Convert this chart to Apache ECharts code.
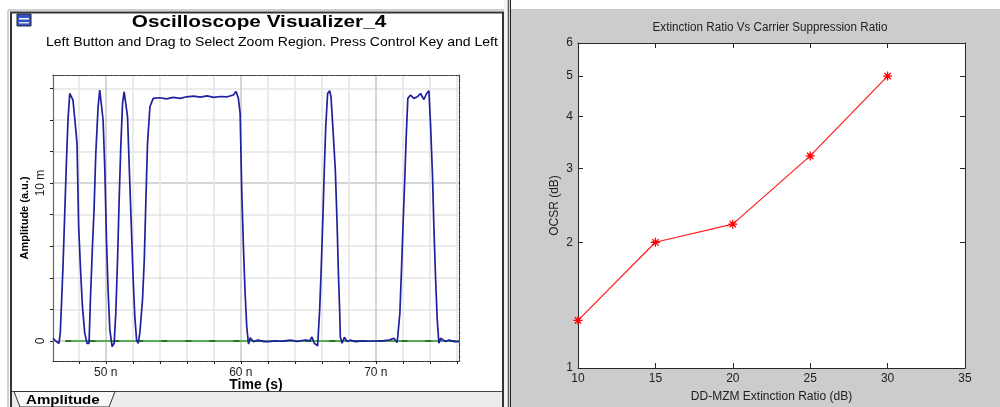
<!DOCTYPE html>
<html>
<head>
<meta charset="utf-8">
<title>Oscilloscope Visualizer / OCSR</title>
<script src="https://cdn.jsdelivr.net/npm/echarts@6/dist/echarts.min.js"></script>
<style>
html, body { margin: 0; padding: 0; background: #fff; }
#chart { width: 1000px; height: 407px; }
</style>
</head>
<body>
<div id="chart"></div>
<script>
// oscilloscope trace: [time (ns), amplitude (m a.u.)]
const trace = [
  [46.09, 0.17], [46.20, 0.10], [46.34, -0.04], [46.53, -0.15], [46.63, 0.51],
  [46.71, 2.17], [46.83, 4.70], [46.96, 8.08], [47.08, 11.24], [47.20, 13.99],
  [47.33, 15.67], [47.45, 15.72], [47.57, 15.25], [47.70, 14.09], [47.87, 12.51],
  [47.99, 7.23], [48.12, 4.70], [48.27, 2.17], [48.44, 0.51], [48.61, -0.15],
  [48.76, -0.15], [48.86, 2.59], [49.01, 5.97], [49.13, 8.29], [49.26, 11.88],
  [49.43, 14.83], [49.55, 15.89], [49.68, 15.78], [49.80, 13.99], [49.93, 10.82],
  [50.05, 6.39], [50.17, 3.23], [50.30, 0.70], [50.47, -0.36], [50.62, -0.15],
  [50.74, 1.74], [50.87, 5.12], [50.99, 8.92], [51.11, 12.30], [51.24, 15.04],
  [51.36, 15.78], [51.48, 15.67], [51.61, 14.20], [51.78, 9.98], [51.91, 6.81],
  [52.03, 3.86], [52.15, 1.54], [52.28, 0.06], [52.40, -0.15], [52.52, 0.51],
  [52.72, 2.59], [52.85, 5.12], [52.97, 8.92], [53.09, 12.51], [53.27, 14.83],
  [53.51, 15.36], [54.0, 15.40], [54.5, 15.33], [55.0, 15.42], [55.5, 15.36],
  [56.0, 15.46], [56.5, 15.50], [57.0, 15.44], [57.5, 15.52], [58.0, 15.42],
  [58.5, 15.48], [59.0, 15.46], [59.45, 15.57], [59.65, 15.80], [59.82, 15.36],
  [59.95, 14.41], [60.07, 9.50], [60.20, 5.80], [60.32, 3.00], [60.44, 0.90],
  [60.57, -0.20], [60.70, 0.20], [60.82, 0.17], [60.94, -0.05], [61.06, -0.10],
  [61.25, 0.05], [61.43, 0.02], [61.70, -0.04], [62.05, -0.04], [62.50, 0.00],
  [63.00, -0.02], [63.66, 0.05], [64.20, -0.03], [64.78, 0.06], [65.10, 0.00],
  [65.27, 0.25], [65.44, -0.15], [65.69, -0.30], [65.84, 1.96], [65.96, 4.70],
  [66.09, 8.08], [66.19, 11.03], [66.29, 13.56], [66.43, 15.67], [66.58, 15.84],
  [66.68, 15.46], [66.83, 13.35], [67.00, 10.82], [67.13, 7.44], [67.23, 4.28],
  [67.32, 1.96], [67.37, 0.27], [67.50, -0.15], [67.67, 0.23], [67.87, -0.04],
  [68.10, 0.05], [68.49, -0.04], [69.00, 0.00], [69.60, -0.02], [70.20, 0.00],
  [70.59, 0.02], [71.00, 0.05], [71.33, 0.17], [71.58, -0.10], [71.78, 1.74],
  [71.90, 4.49], [72.03, 7.66], [72.15, 10.40], [72.25, 12.93], [72.37, 15.36],
  [72.57, 15.57], [72.82, 15.36], [73.07, 15.46], [73.31, 15.67], [73.56, 15.29],
  [73.76, 15.67], [73.93, 15.84], [74.06, 13.56], [74.20, 10.40], [74.30, 7.23],
  [74.43, 3.86], [74.55, 1.32], [74.67, -0.15], [74.80, 0.17], [74.99, 0.06],
  [75.17, -0.04], [75.42, 0.06], [75.79, -0.04], [76.16, -0.04]
];
// green reference line at zero
const zeroLine = [[47.0, 0], [76.16, 0]];

const timeTicks = [48, 50, 52, 54, 56, 58, 60, 62, 64, 66, 68, 70, 72, 74, 76];
const timeLabels = [50, 60, 70];
const ampTicks = [0, 2, 4, 6, 8, 10, 12, 14, 16];
const ampLabels = [0, 10];

// extinction ratio vs OCSR
const extinctionRatio = [10, 15, 20, 25, 30];
const ocsr = [1.30, 2.0, 2.21, 3.22, 5.0];
const ocsrTicks = [1, 2, 3, 4, 5, 6];

const FONT = 'Liberation Sans, Arial, sans-serif';
const chart = echarts.init(document.getElementById('chart'));

const asterisk = 'path://M5 0L5 10M0 5L10 5M1.5 1.5L8.5 8.5M1.5 8.5L8.5 1.5';
const ocsrPoints = extinctionRatio.map((x, i) => [x, ocsr[i]]);

// text placed at (x, y), optionally stretched horizontally like the original ClearType text
function txt(text, x, y, font, align, fill, sx) {
  return {
    type: 'text', z: 10, x: x, y: y, scaleX: sx || 1,
    style: { text: text, x: 0, y: 0, font: font, fill: fill || '#000',
      align: align, textAlign: align, verticalAlign: 'middle', textVerticalAlign: 'middle' }
  };
}

let option = {
  backgroundColor: '#fff',
  animation: false,
  textStyle: { fontFamily: FONT },
  graphic: [
    // left window
    { type: 'rect', z: -10, shape: { x: 8, y: 10, width: 497, height: 400 },
      style: { fill: '#fff', stroke: '#a0a0a0', lineWidth: 1 } },
    { type: 'rect', z: -9, shape: { x: 11, y: 12.5, width: 492, height: 400 },
      style: { fill: 'none', stroke: '#333', lineWidth: 2 } },
    { type: 'rect', z: -9, shape: { x: 12, y: 391, width: 490, height: 16 },
      style: { fill: '#ececec' } },
    { type: 'line', z: 9, shape: { x1: 12, y1: 391.5, x2: 502, y2: 391.5 },
      style: { stroke: '#444', lineWidth: 1 } },
    { type: 'polygon', z: 10, shape: { points: [[14, 391.5], [20, 407], [109, 407], [115, 391.5]] },
      style: { fill: '#f8f8f8', stroke: '#333', lineWidth: 1 } },
    txt('Amplitude', 26, 400, 'bold 13px ' + FONT, 'left', '#000', 1.16),
    // icon
    { type: 'rect', z: 10, shape: { x: 17, y: 14, width: 14, height: 12 },
      style: { fill: '#2f55c8', stroke: '#223', lineWidth: 1 } },
    { type: 'rect', z: 11, shape: { x: 19, y: 18, width: 10, height: 1.5 }, style: { fill: '#fff' } },
    { type: 'rect', z: 11, shape: { x: 19, y: 22, width: 10, height: 1.5 }, style: { fill: '#ddd' } },
    txt('Oscilloscope Visualizer_4', 259, 22, 'bold 17px ' + FONT, 'center', '#000', 1.22),
    txt('Left Button and Drag to Select Zoom Region. Press Control Key and Left', 46, 42, '13px ' + FONT, 'left', '#000', 1.08),
    // separator
    { type: 'rect', z: -10, shape: { x: 504, y: 0, width: 4, height: 407 }, style: { fill: '#f2f2f2' } },
    { type: 'line', z: 9, shape: { x1: 508.5, y1: 0, x2: 508.5, y2: 407 }, style: { stroke: '#555', lineWidth: 1.5 } },
    { type: 'line', z: 9, shape: { x1: 510.5, y1: 0, x2: 510.5, y2: 407 }, style: { stroke: '#222', lineWidth: 1 } },
    // right figure
    { type: 'rect', z: -10, shape: { x: 511, y: 9, width: 489, height: 398 }, style: { fill: '#cccccc' } },
    { type: 'rect', z: -9, shape: { x: 578, y: 43, width: 387, height: 325 }, style: { fill: '#fff' } },
    txt('Extinction Ratio Vs Carrier Suppression Ratio', 770, 28, '12px ' + FONT, 'center', '#222', 0.97)
  ],
  grid: [
    { left: 53, top: 75, width: 406, height: 286, outerBoundsMode: 'none' },
    { left: 578, top: 43, width: 387, height: 325, outerBoundsMode: 'none' }
  ],
  xAxis: [
    {
      gridIndex: 0, type: 'value', min: 46.09, max: 76.16,
      axisLine: { onZero: false, lineStyle: { color: '#222', type: 'dotted', width: 1.2 } },
      axisTick: { customValues: timeTicks, length: 3, lineStyle: { color: '#222' } },
      axisLabel: { customValues: timeLabels, formatter: v => v + ' n', color: '#222', fontSize: 12, margin: 6 },
      splitLine: { show: true, lineStyle: { color: ['#e4e4e4', '#c8c8c8', '#e4e4e4', '#e4e4e4', '#e4e4e4'], width: 1.5 } },
      name: 'Time (s)', nameLocation: 'middle', nameGap: 17, nameMoveOverlap: false,
      nameTextStyle: { fontWeight: 'bold', fontSize: 14, color: '#000' }
    },
    {
      gridIndex: 0, type: 'value', position: 'top', min: 46.09, max: 76.16,
      axisLine: { onZero: false, lineStyle: { color: '#333', type: 'dotted', width: 1.2 } },
      axisTick: { show: false }, axisLabel: { show: false }, splitLine: { show: false }
    },
    {
      gridIndex: 1, type: 'value', min: 10, max: 35, interval: 5,
      axisLine: { onZero: false, lineStyle: { color: '#262626', width: 1 } },
      axisTick: { inside: true, length: 5, lineStyle: { color: '#262626' } },
      axisLabel: { color: '#222', fontSize: 12, margin: 5 },
      splitLine: { show: false },
      name: 'DD-MZM Extinction Ratio (dB)', nameLocation: 'middle', nameGap: 23,
      nameTextStyle: { fontSize: 12, color: '#222' }
    },
    {
      gridIndex: 1, type: 'value', position: 'top', min: 10, max: 35, interval: 5,
      axisLine: { onZero: false, lineStyle: { color: '#262626', width: 1 } },
      axisTick: { inside: true, length: 5, lineStyle: { color: '#262626' } },
      axisLabel: { show: false }, splitLine: { show: false }
    }
  ],
  yAxis: [
    {
      gridIndex: 0, type: 'value', min: -1.27, max: 16.84,
      axisLine: { onZero: false, lineStyle: { color: '#666', width: 1.2 } },
      axisTick: { customValues: ampTicks, length: 3, lineStyle: { color: '#222' } },
      axisLabel: { customValues: ampLabels, rotate: 90, formatter: v => v === 0 ? '0' : v + ' m',
        color: '#222', fontSize: 12, margin: 6 },
      splitLine: { show: true, lineStyle: { color: ['#c8c8c8', '#e4e4e4', '#e4e4e4', '#e4e4e4', '#e4e4e4'], width: 1.5 } },
      name: 'Amplitude (a.u.)', nameLocation: 'middle', nameGap: 23, nameRotate: 90,
      nameTextStyle: { fontWeight: 'bold', fontSize: 11, color: '#000' }
    },
    {
      gridIndex: 0, type: 'value', position: 'right', min: -1.27, max: 16.84,
      axisLine: { show: true, onZero: false, lineStyle: { color: '#333', type: 'dotted', width: 1.2 } },
      axisTick: { show: false }, axisLabel: { show: false }, splitLine: { show: false }
    },
    {
      gridIndex: 1, type: 'log', logBase: 10, min: 1, max: 6,
      axisLine: { show: true, onZero: false, lineStyle: { color: '#262626', width: 1 } },
      axisTick: { show: true, inside: true, length: 5, customValues: ocsrTicks, lineStyle: { color: '#262626' } },
      axisLabel: { customValues: ocsrTicks, color: '#222', fontSize: 12, margin: 5 },
      minorTick: { show: false }, splitLine: { show: false },
      name: 'OCSR (dB)', nameLocation: 'middle', nameGap: 17, nameRotate: 90,
      nameTextStyle: { fontSize: 12, color: '#222' }
    },
    {
      gridIndex: 1, type: 'log', logBase: 10, min: 1, max: 6, position: 'right',
      axisLine: { show: true, onZero: false, lineStyle: { color: '#262626', width: 1 } },
      axisTick: { show: true, inside: true, length: 5, customValues: ocsrTicks, lineStyle: { color: '#262626' } },
      axisLabel: { show: false }, minorTick: { show: false }, splitLine: { show: false }
    }
  ],
  series: [
    {
      type: 'line', xAxisIndex: 0, yAxisIndex: 0, data: zeroLine, symbol: 'none', silent: true,
      lineStyle: { color: '#2ca02c', width: 1.5 }
    },
    {
      type: 'line', xAxisIndex: 0, yAxisIndex: 0, data: zeroLine, symbol: 'none', silent: true,
      lineStyle: { color: '#1d5e1d', width: 1.5, type: [6, 18] }
    },
    {
      type: 'line', xAxisIndex: 0, yAxisIndex: 0, symbol: 'none', silent: true,
      data: trace,
      lineStyle: { color: '#1f1fa0', width: 1.7 }
    },
    {
      type: 'line', xAxisIndex: 2, yAxisIndex: 2, silent: true, z: 20,
      data: ocsrPoints, symbol: 'none', clip: false,
      lineStyle: { color: '#ff1a1a', width: 1.2 }
    },
    {
      type: 'scatter', xAxisIndex: 2, yAxisIndex: 2, silent: true, z: 21,
      data: ocsrPoints, symbol: asterisk, symbolSize: 9, clip: false,
      itemStyle: { color: 'rgba(255,0,0,0)', borderColor: '#ff0000', borderWidth: 1.3, opacity: 1 }
    }
  ]
};

option && chart.setOption(option);
</script>
</body>
</html>
